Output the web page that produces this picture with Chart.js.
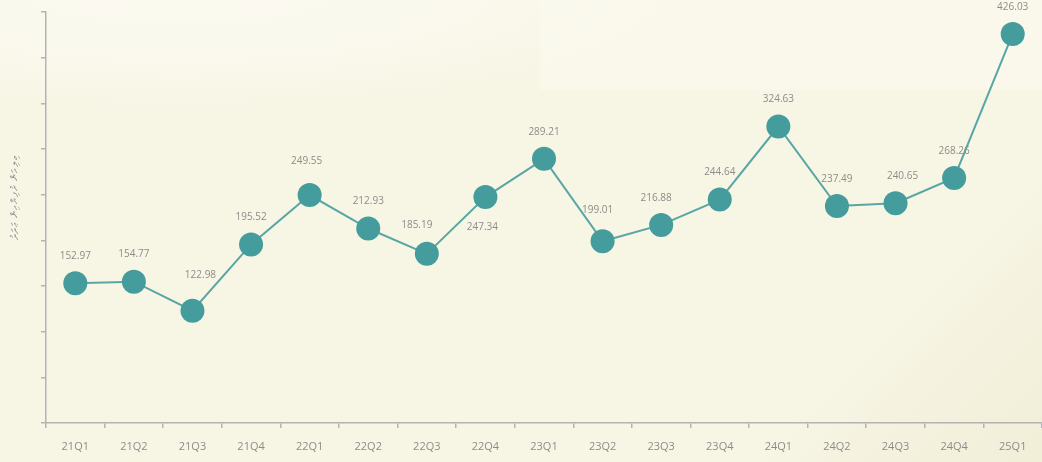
<!DOCTYPE html>
<html>
<head>
<meta charset="utf-8">
<script src="https://cdn.jsdelivr.net/npm/chart.js@4.4.1/dist/chart.umd.min.js"></script>
<style>
  html, body { margin: 0; padding: 0; }
  body {
    width: 1042px; height: 462px; overflow: hidden;
    background:
      radial-gradient(ellipse 520px 120px at 180px -10px, rgba(252,251,242,0.9) 0%, rgba(252,251,242,0.6) 60%, rgba(252,251,242,0) 100%),
      linear-gradient(180deg, rgba(250,249,236,0.8) 0px, rgba(250,249,236,0.8) 88px, rgba(250,249,236,0) 92px) 540px 0 / 502px 100% no-repeat,
      linear-gradient(135deg, rgba(0,0,0,0) 80%, rgba(240,238,214,0.9) 100%),
      #f7f5e4;
  }
  #wrap { position: relative; width: 1042px; height: 462px; }
</style>
</head>
<body>
<div id="wrap"><canvas id="c" width="1042" height="462"></canvas></div>
<script>
const categories = ['21Q1','21Q2','21Q3','21Q4','22Q1','22Q2','22Q3','22Q4','23Q1','23Q2','23Q3','23Q4','24Q1','24Q2','24Q3','24Q4','25Q1'];
const values = [152.97,154.77,122.98,195.52,249.55,212.93,185.19,247.34,289.21,199.01,216.88,244.64,324.63,237.49,240.65,268.26,426.03];
const yTitle = 'މިލިއަން ރުފިޔާއިން ޢަދަދު';
const yMin = 0, yMax = 450, yStep = 50;

// label offsets (dx, dy) relative to the default position above each point
const labelShift = [[0,0],[0,0],[8,-9],[0,0],[-3,-7],[0,0],[-10,-2],[-3,57],[0,0],[-5,-4],[-5,0],[0,0],[0,0],[0,0],[7,0],[0,0],[0,0]];

const GRAY = '#b3b3b3';
const TEXT = '#8c8c8c';

const labelPlugin = {
  id: 'valueLabels',
  afterDatasetsDraw(chart) {
    const ctx = chart.ctx;
    const meta = chart.getDatasetMeta(0);
    ctx.save();
    ctx.font = '10px "Open Sans"';
    ctx.fillStyle = TEXT;
    ctx.textAlign = 'center';
    ctx.textBaseline = 'middle';
    meta.data.forEach((pt, i) => {
      const s = labelShift[i] || [0,0];
      ctx.fillText(values[i].toFixed(2), pt.x + s[0], pt.y - 27 + s[1]);
    });
    ctx.restore();
  }
};

const yTitlePlugin = {
  id: 'yTitle',
  afterDraw(chart) {
    const ctx = chart.ctx;
    ctx.save();
    ctx.translate(15, 198);
    ctx.rotate(-Math.PI / 2);
    ctx.font = '10px "Noto Sans", "DejaVu Sans", sans-serif';
    ctx.fillStyle = '#9a9a9a';
    ctx.textAlign = 'center';
    ctx.textBaseline = 'middle';
    ctx.direction = 'rtl';
    const n = [...yTitle].length;
    const w = ctx.measureText(yTitle).width;
    const target = 95;
    if ('letterSpacing' in ctx && w < target) {
      ctx.letterSpacing = ((target - w) / n).toFixed(2) + 'px';
    }
    ctx.fillText(yTitle, 0, 0);
    ctx.restore();
  }
};

new Chart(document.getElementById('c'), {
  type: 'line',
  data: {
    labels: categories,
    datasets: [{
      data: values,
      borderColor: '#59a6a6',
      borderWidth: 2,
      tension: 0,
      fill: false,
      clip: false,
      pointRadius: 12,
      pointHoverRadius: 12,
      pointBackgroundColor: '#449c9d',
      pointBorderWidth: 0,
      pointBorderColor: '#449c9d'
    }]
  },
  options: {
    responsive: false,
    animation: false,
    devicePixelRatio: 1,
    layout: { autoPadding: false, padding: { top: 12, left: 0, right: 0, bottom: 0 } },
    plugins: { legend: { display: false }, tooltip: { enabled: false } },
    scales: {
      x: {
        offset: true,
        grid: { offset: true, drawOnChartArea: false, drawTicks: true, tickLength: 5, color: GRAY, lineWidth: 1.5 },
        border: { display: true, color: GRAY, width: 1.5 },
        ticks: { color: TEXT, font: { family: '"Open Sans"', size: 11 }, padding: 12, maxRotation: 0, autoSkip: false },
        afterFit(s) { s.height = 39; s.paddingLeft = 0; s.paddingRight = 0; }
      },
      y: {
        min: yMin, max: yMax,
        ticks: { display: false, stepSize: yStep },
        grid: { drawOnChartArea: false, drawTicks: true, tickLength: 5, color: GRAY, lineWidth: 1.5 },
        border: { display: true, color: GRAY, width: 1.5 },
        afterFit(s) { s.width = 46; s.paddingTop = 0; s.paddingBottom = 0; }
      }
    }
  },
  plugins: [labelPlugin, yTitlePlugin]
});
</script>
</body>
</html>
